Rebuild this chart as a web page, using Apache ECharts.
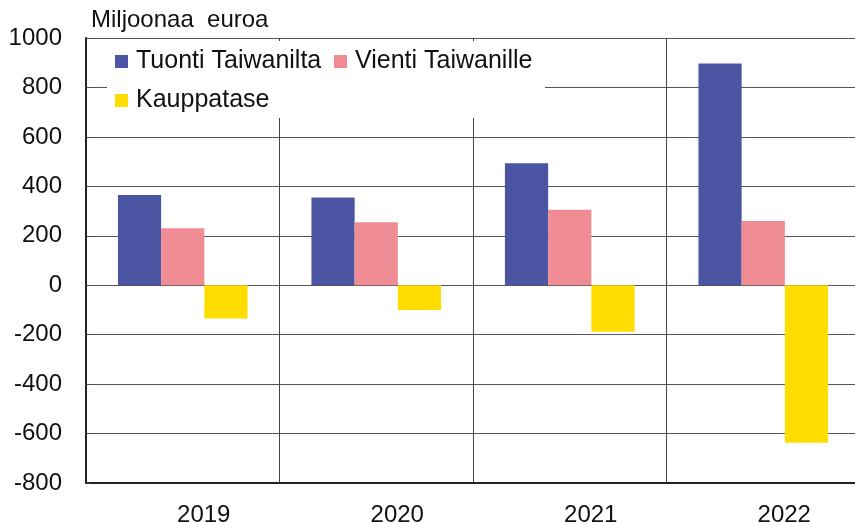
<!DOCTYPE html>
<html><head><meta charset="utf-8">
<script src="https://cdn.jsdelivr.net/npm/echarts@6/dist/echarts.min.js"></script>
<style>html,body{margin:0;padding:0;background:#fff}#c{width:855px;height:522px}</style>
</head><body><div id="c"></div>
<script>
const categories = ['2019', '2020', '2021', '2022'];
const tuonti = [365, 355, 493, 897];
const vienti = [230, 255, 305, 260];
const kauppatase = [-135, -100, -188, -637];
const seriesNames = ['Tuonti Taiwanilta', 'Vienti Taiwanille', 'Kauppatase'];
const unitLabel = 'Miljoonaa  euroa';

const font = 'Liberation Sans, Arial, sans-serif';
const chart = echarts.init(document.getElementById('c'), null, {renderer: 'canvas'});
const colors = ['#4B55A3', '#F08C94', '#FFDD00'];
const legendCommon = {
  itemWidth: 13, itemHeight: 13, icon: 'rect',
  textStyle: {fontFamily: font, fontSize: 25, color: '#111', padding: [0,0,0,3]},
  padding: 0, z: 10
};
chart.setOption({
  animation: false,
  textStyle: {fontFamily: font},
  grid: {left: 86, top: 38, right: -5, bottom: 39, outerBoundsMode: 'none', containLabel: false},
  graphic: [
    {type: 'rect', shape: {x: 107, y: 41, width: 438, height: 77}, style: {fill: '#fff'}, z: 1, silent: true},
    {type: 'text', left: 91, top: 8, style: {text: unitLabel, font: '24px ' + font, fill: '#111'}}
  ],
  legend: [
    Object.assign({data: [seriesNames[0]], left: 115, top: 49}, legendCommon),
    Object.assign({data: [seriesNames[1]], left: 334, top: 49}, legendCommon),
    Object.assign({data: [seriesNames[2]], left: 115, top: 88}, legendCommon)
  ],
  xAxis: {
    type: 'category', data: categories,
    axisLine: {show: true, onZero: false, lineStyle: {color: '#222', width: 2}},
    axisTick: {show: false},
    axisLabel: {fontSize: 24, color: '#111', margin: 20, fontFamily: font, padding: [0, 0, 0, 42]},
    splitLine: {show: true, lineStyle: {color: '#444', width: 1}}
  },
  yAxis: {
    type: 'value', min: -800, max: 1000, interval: 200,
    axisLine: {show: true, lineStyle: {color: '#222', width: 2}},
    axisTick: {show: true, inside: true, length: 4, lineStyle: {color: '#444'}},
    axisLabel: {fontSize: 24, color: '#111', margin: 24, fontFamily: font, formatter: v => String(v)},
    splitLine: {show: true, lineStyle: {color: '#555', width: 1}}
  },
  series: [
    {name: seriesNames[0], type: 'bar', data: tuonti, itemStyle: {color: colors[0]}, barGap: '0%', barCategoryGap: '33%', z: 2},
    {name: seriesNames[1], type: 'bar', data: vienti, itemStyle: {color: colors[1]}, barGap: '0%', barCategoryGap: '33%', z: 2},
    {name: seriesNames[2], type: 'bar', data: kauppatase, itemStyle: {color: colors[2]}, barGap: '0%', barCategoryGap: '33%', z: 2}
  ]
});
</script></body></html>
